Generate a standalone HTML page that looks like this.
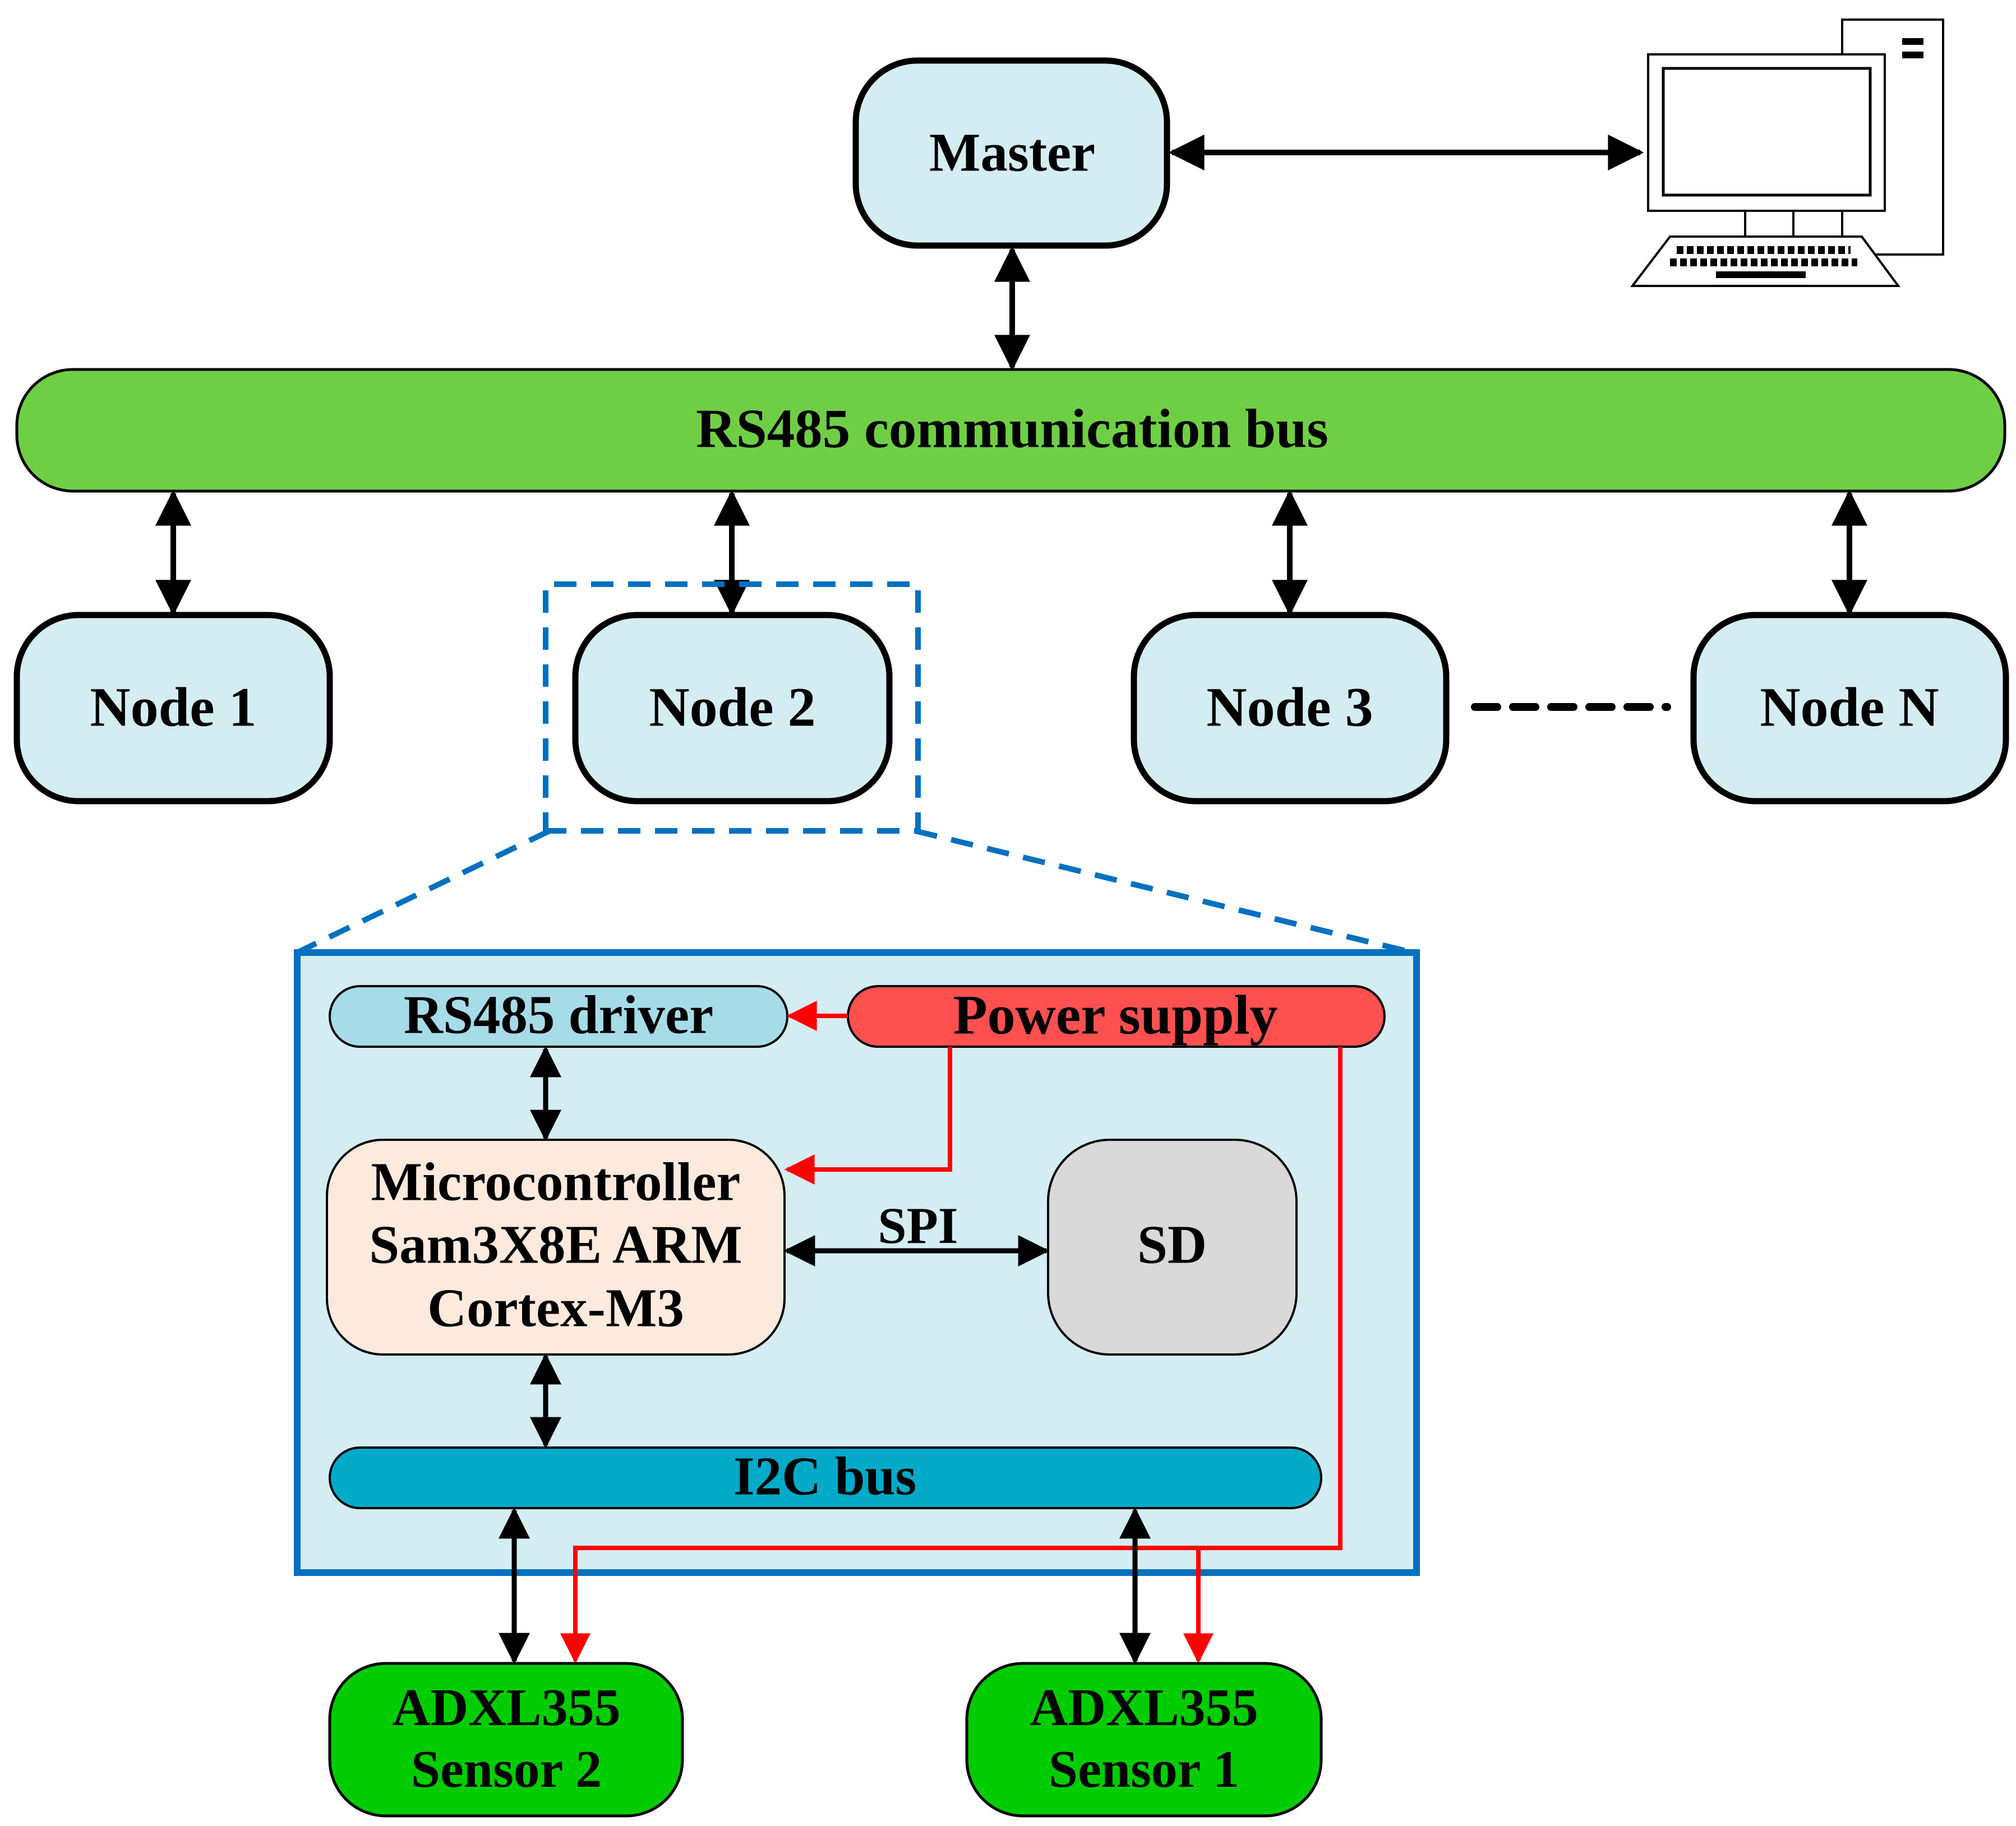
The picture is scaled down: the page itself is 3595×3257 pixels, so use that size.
<!DOCTYPE html>
<html><head><meta charset="utf-8"><style>html,body{margin:0;padding:0;background:#fff}svg{display:block}text{font-family:"Liberation Serif",serif;font-weight:bold;fill:#000;text-anchor:middle;dominant-baseline:central}</style></head>
<body>
<svg width="3595" height="3257" viewBox="0 0 3595 3257" xmlns="http://www.w3.org/2000/svg">
<defs>
<marker id="bk" viewBox="0 0 10 10" refX="9" refY="5" markerUnits="userSpaceOnUse" markerWidth="66" markerHeight="64" orient="auto-start-reverse"><path d="M0,0 L10,5 L0,10 z" fill="#000"/></marker>
<marker id="bs" viewBox="0 0 10 10" refX="9" refY="5" markerUnits="userSpaceOnUse" markerWidth="58" markerHeight="56" orient="auto-start-reverse"><path d="M0,0 L10,5 L0,10 z" fill="#000"/></marker>
<marker id="rd" viewBox="0 0 10 10" refX="9" refY="5" markerUnits="userSpaceOnUse" markerWidth="58" markerHeight="54" orient="auto"><path d="M0,0 L10,5 L0,10 z" fill="#ff0000"/></marker>
</defs>

<rect x="1526" y="108" width="555" height="330" rx="110" fill="#d4edf2" stroke="#000" stroke-width="11"/>
<text x="1805" y="272" font-size="97">Master</text>
<line x1="2090" y1="272" x2="2925" y2="272" stroke="#000" stroke-width="10" marker-start="url(#bk)" marker-end="url(#bk)"/>

<rect x="3285" y="35" width="180" height="419" fill="#fff" stroke="#000" stroke-width="4"/>
<rect x="3392" y="68" width="38" height="12" fill="#000"/>
<rect x="3392" y="92" width="38" height="12" fill="#000"/>
<rect x="3112" y="376" width="173" height="46" fill="#fff" stroke="#000" stroke-width="4"/>
<line x1="3198" y1="376" x2="3198" y2="422" stroke="#000" stroke-width="4"/>
<rect x="2939" y="97" width="422" height="279" fill="#fff" stroke="#000" stroke-width="4"/>
<rect x="2966" y="122" width="369" height="226" fill="#fff" stroke="#000" stroke-width="5"/>
<polygon points="2978,422 3320,422 3385,510 2911,510" fill="#fff" stroke="#000" stroke-width="4"/>
<g stroke="#000" stroke-width="14" stroke-dasharray="12,6">
<line x1="2990" y1="446" x2="3300" y2="446"/>
<line x1="2978" y1="468" x2="3312" y2="468"/>
</g>
<rect x="3060" y="484" width="160" height="12" fill="#000"/>

<line x1="1805" y1="445" x2="1805" y2="655" stroke="#000" stroke-width="10" marker-start="url(#bk)" marker-end="url(#bk)"/>

<rect x="30" y="659" width="3545" height="217" rx="100" fill="#6fcf44" stroke="#000" stroke-width="5"/>
<text x="1805" y="765" font-size="99">RS485 communication bus</text>

<g stroke="#000" stroke-width="10">
<line x1="309" y1="880" x2="309" y2="1092" marker-start="url(#bk)" marker-end="url(#bk)"/>
<line x1="1305" y1="880" x2="1305" y2="1092" marker-start="url(#bk)" marker-end="url(#bk)"/>
<line x1="2300" y1="880" x2="2300" y2="1092" marker-start="url(#bk)" marker-end="url(#bk)"/>
<line x1="3298" y1="880" x2="3298" y2="1092" marker-start="url(#bk)" marker-end="url(#bk)"/>
</g>

<g fill="#d4edf2" stroke="#000" stroke-width="11">
<rect x="30" y="1097" width="558" height="332" rx="110"/>
<rect x="1026" y="1097" width="560" height="332" rx="110"/>
<rect x="2022" y="1097" width="557" height="332" rx="110"/>
<rect x="3020" y="1097" width="557" height="332" rx="110"/>
</g>
<text x="309" y="1261" font-size="100">Node 1</text>
<text x="1306" y="1261" font-size="100">Node 2</text>
<text x="2300" y="1261" font-size="100">Node 3</text>
<text x="3298" y="1261" font-size="100">Node N</text>
<line x1="2630" y1="1261" x2="2973" y2="1261" stroke="#000" stroke-width="14" stroke-dasharray="40,28" stroke-linecap="round"/>

<g fill="none" stroke="#0070c0" stroke-width="10" stroke-dasharray="40,26">
<polyline points="980,1482 973,1482 973,1042 1637,1042 1637,1482 980,1482"/>
<line x1="980" y1="1482" x2="530" y2="1699"/>
<line x1="1632" y1="1482" x2="2519" y2="1699"/>
</g>

<rect x="530" y="1699" width="1996" height="1106" fill="#d4edf2" stroke="#0070c0" stroke-width="12"/>

<rect x="588" y="1759" width="816" height="108" rx="54" fill="#a6dce8" stroke="#000" stroke-width="4"/>
<text x="996" y="1810" font-size="97">RS485 driver</text>
<rect x="1512" y="1759" width="957" height="108" rx="54" fill="#ff5050" stroke="#000" stroke-width="4"/>
<text x="1989" y="1810" font-size="100">Power supply</text>

<g fill="none" stroke="#ff0000" stroke-width="8">
<line x1="1512" y1="1812" x2="1408" y2="1812" marker-end="url(#rd)"/>
<polyline points="1694,1867 1694,2086 1404,2086" marker-end="url(#rd)"/>
<polyline points="2390,1867 2390,2761 1026,2761 1026,2962" marker-end="url(#rd)"/>
<line x1="2137" y1="2761" x2="2137" y2="2962" marker-end="url(#rd)"/>
</g>

<g stroke="#000" stroke-width="9">
<line x1="973" y1="1871" x2="973" y2="2030" marker-start="url(#bs)" marker-end="url(#bs)"/>
<line x1="973" y1="2419" x2="973" y2="2578" marker-start="url(#bs)" marker-end="url(#bs)"/>
<line x1="1403" y1="2231" x2="1866" y2="2231" marker-start="url(#bs)" marker-end="url(#bs)"/>
<line x1="917" y1="2694" x2="917" y2="2963" marker-start="url(#bs)" marker-end="url(#bs)"/>
<line x1="2024" y1="2694" x2="2024" y2="2963" marker-start="url(#bs)" marker-end="url(#bs)"/>
</g>
<text x="1637" y="2186" font-size="92">SPI</text>

<rect x="583" y="2033" width="816" height="383" rx="100" fill="#fdeadd" stroke="#000" stroke-width="4"/>
<text x="991" y="2108" font-size="97">Microcontroller</text>
<text x="991" y="2220" font-size="97">Sam3X8E ARM</text>
<text x="991" y="2333" font-size="97">Cortex-M3</text>

<rect x="1869" y="2033" width="443" height="383" rx="110" fill="#d9d9d9" stroke="#000" stroke-width="4"/>
<text x="2090" y="2220" font-size="97">SD</text>

<rect x="588" y="2582" width="1768" height="108" rx="54" fill="#00aac8" stroke="#000" stroke-width="4"/>
<text x="1471" y="2633" font-size="97">I2C bus</text>

<rect x="588" y="2967" width="629" height="272" rx="100" fill="#00cc00" stroke="#000" stroke-width="5"/>
<text x="903" y="3046" font-size="94">ADXL355</text>
<text x="903" y="3156" font-size="94">Sensor 2</text>
<rect x="1724" y="2967" width="632" height="272" rx="100" fill="#00cc00" stroke="#000" stroke-width="5"/>
<text x="2040" y="3046" font-size="94">ADXL355</text>
<text x="2040" y="3156" font-size="94">Sensor 1</text>
</svg>
</body></html>
